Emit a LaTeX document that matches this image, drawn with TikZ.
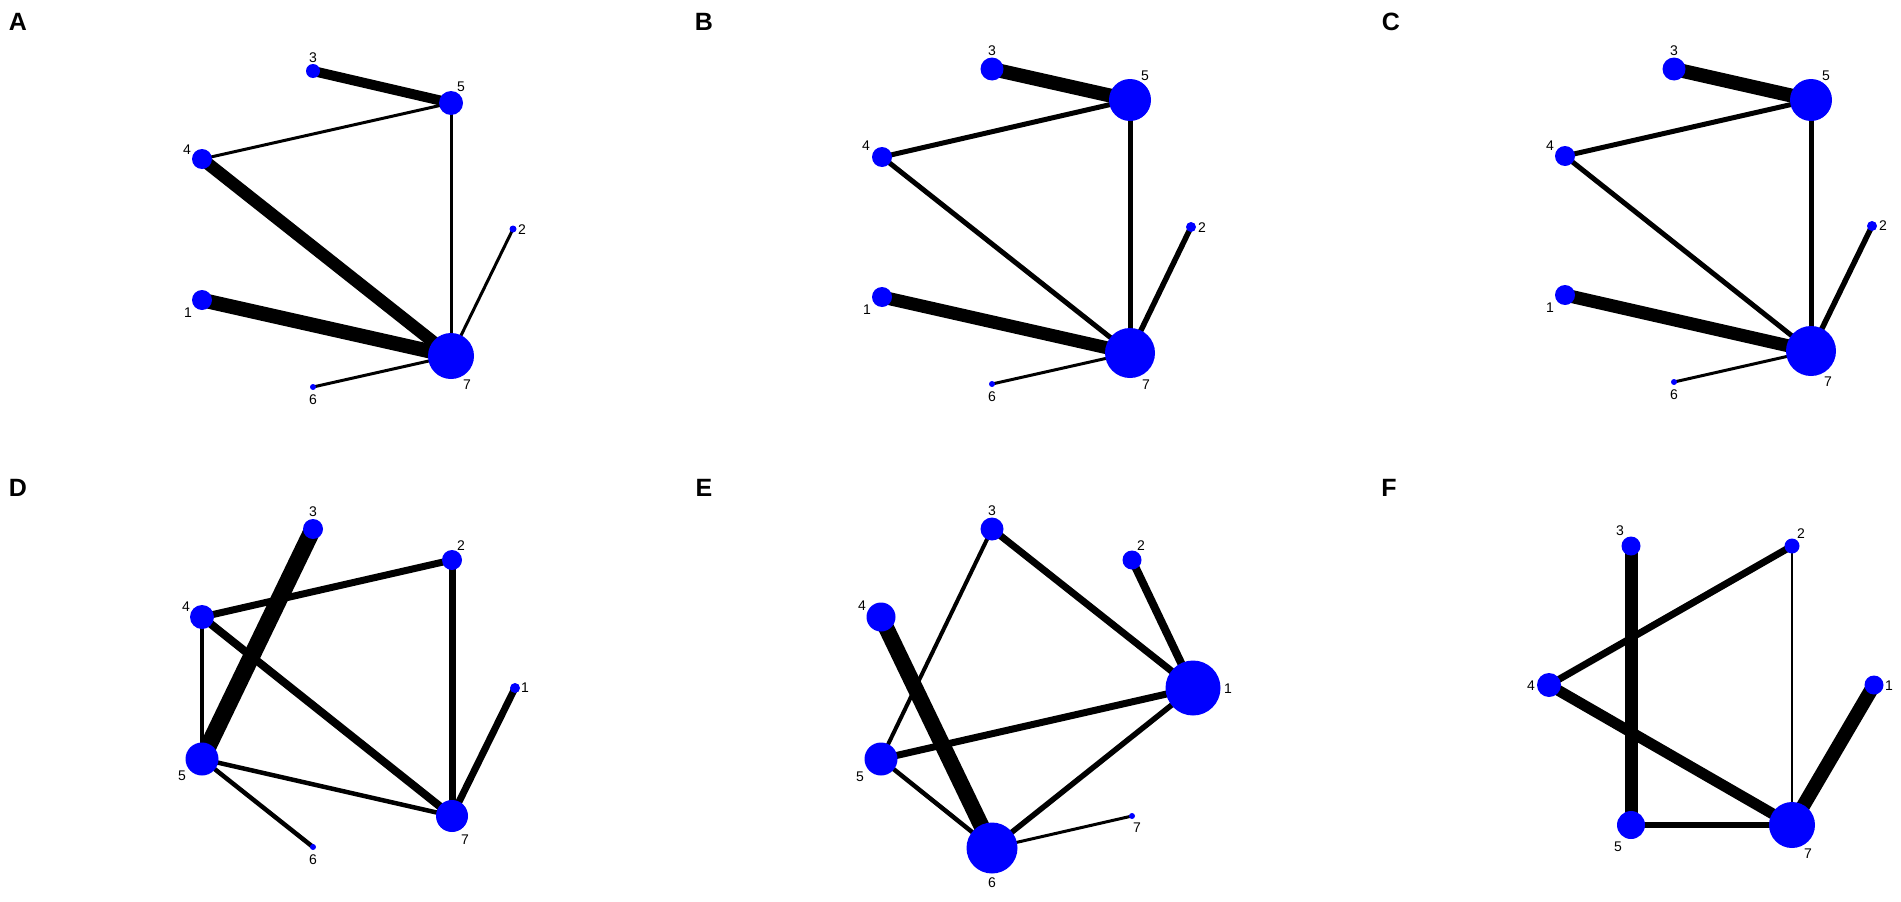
\documentclass[tikz,border=0pt]{standalone}
\usepackage{fontspec}
\setmainfont{Liberation Sans}
\pgfdeclarelayer{bg}
\pgfsetlayers{bg,main}
\begin{document}
\begin{tikzpicture}[x=1pt,y=-1pt,
  vtx/.style={circle,fill=blue,draw=none,inner sep=0pt,minimum size=#1},
  lbl/.style={font=\fontsize{14}{14}\selectfont,inner sep=0pt,text=black},
  plbl/.style={font=\fontsize{25}{25}\selectfont\bfseries,inner sep=0pt},
  ed/.style={line width=#1,black}]
\begin{pgfonlayer}{bg}
\fill[white] (0,0) rectangle (1901,902);
\end{pgfonlayer}
\useasboundingbox (0,0) rectangle (1901,902);
% ---------------- A
\node[plbl] (pA) at (18,22) {A};
\node[vtx=14] (A3) at (313,71) {};
\node[vtx=24] (A5) at (451,103) {};
\node[vtx=20] (A4) at (202,159) {};
\node[vtx=7]  (A2) at (513,229) {};
\node[vtx=20] (A1) at (202,300) {};
\node[vtx=46] (A7) at (451,356) {};
\node[vtx=6]  (A6) at (313,387) {};
\node[lbl] (A3t) at (313,58) {3};
\node[lbl] (A5t) at (461,87) {5};
\node[lbl] (A4t) at (187,150) {4};
\node[lbl] (A2t) at (522,230) {2};
\node[lbl] (A1t) at (188,313) {1};
\node[lbl] (A7t) at (467,385) {7};
\node[lbl] (A6t) at (313,400) {6};
\begin{pgfonlayer}{bg}
\draw[ed=10pt] (A3.center) -- (A5.center);
\draw[ed=3pt] (A4.center) -- (A5.center);
\draw[ed=3pt] (A5.center) -- (A7.center);
\draw[ed=12.5pt] (A4.center) -- (A7.center);
\draw[ed=14.5pt] (A1.center) -- (A7.center);
\draw[ed=3pt] (A2.center) -- (A7.center);
\draw[ed=3pt] (A6.center) -- (A7.center);
\end{pgfonlayer}
% ---------------- B
\node[plbl] (pB) at (704,22) {B};
\node[vtx=23] (B3) at (992,69) {};
\node[vtx=42] (B5) at (1130,100) {};
\node[vtx=20] (B4) at (882,157) {};
\node[vtx=10] (B2) at (1191,227) {};
\node[vtx=20] (B1) at (882,297) {};
\node[vtx=50] (B7) at (1130,353) {};
\node[vtx=6]  (B6) at (992,384) {};
\node[lbl] (B3t) at (992,51) {3};
\node[lbl] (B5t) at (1145,76) {5};
\node[lbl] (B4t) at (866,146) {4};
\node[lbl] (B2t) at (1202,228) {2};
\node[lbl] (B1t) at (867,310) {1};
\node[lbl] (B7t) at (1146,385) {7};
\node[lbl] (B6t) at (992,397) {6};
\begin{pgfonlayer}{bg}
\draw[ed=14pt] (B3.center) -- (B5.center);
\draw[ed=5pt] (B4.center) -- (B5.center);
\draw[ed=5pt] (B5.center) -- (B7.center);
\draw[ed=5pt] (B4.center) -- (B7.center);
\draw[ed=13pt] (B1.center) -- (B7.center);
\draw[ed=5.5pt] (B2.center) -- (B7.center);
\draw[ed=3pt] (B6.center) -- (B7.center);
\end{pgfonlayer}
% ---------------- C
\node[plbl] (pC) at (1391,22) {C};
\node[vtx=23] (C3) at (1674,69) {};
\node[vtx=42] (C5) at (1811,100) {};
\node[vtx=20] (C4) at (1565,156) {};
\node[vtx=10] (C2) at (1872,226) {};
\node[vtx=20] (C1) at (1565,295) {};
\node[vtx=50] (C7) at (1811,351) {};
\node[vtx=6]  (C6) at (1674,382) {};
\node[lbl] (C3t) at (1674,51) {3};
\node[lbl] (C5t) at (1826,76) {5};
\node[lbl] (C4t) at (1550,146) {4};
\node[lbl] (C2t) at (1883,226) {2};
\node[lbl] (C1t) at (1550,308) {1};
\node[lbl] (C7t) at (1828,382) {7};
\node[lbl] (C6t) at (1674,395) {6};
\begin{pgfonlayer}{bg}
\draw[ed=14pt] (C3.center) -- (C5.center);
\draw[ed=5pt] (C4.center) -- (C5.center);
\draw[ed=5pt] (C5.center) -- (C7.center);
\draw[ed=5pt] (C4.center) -- (C7.center);
\draw[ed=13pt] (C1.center) -- (C7.center);
\draw[ed=5.5pt] (C2.center) -- (C7.center);
\draw[ed=3pt] (C6.center) -- (C7.center);
\end{pgfonlayer}
% ---------------- D
\node[plbl] (pD) at (18,488) {D};
\node[vtx=20] (D3) at (313,529) {};
\node[vtx=20] (D2) at (452,560) {};
\node[vtx=24] (D4) at (202,617) {};
\node[vtx=10] (D1) at (515,688) {};
\node[vtx=33] (D5) at (202,759) {};
\node[vtx=32] (D7) at (452,816) {};
\node[vtx=6]  (D6) at (313,847) {};
\node[lbl] (D3t) at (313,512) {3};
\node[lbl] (D2t) at (461,546) {2};
\node[lbl] (D4t) at (186,607) {4};
\node[lbl] (D1t) at (525,688) {1};
\node[lbl] (D5t) at (182,776) {5};
\node[lbl] (D7t) at (465,840) {7};
\node[lbl] (D6t) at (313,860) {6};
\begin{pgfonlayer}{bg}
\draw[ed=17pt] (D3.center) -- (D5.center);
\draw[ed=7pt] (D4.center) -- (D2.center);
\draw[ed=7pt] (D2.center) -- (D7.center);
\draw[ed=8pt] (D4.center) -- (D7.center);
\draw[ed=3.3pt] (D4.center) -- (D5.center);
\draw[ed=4.5pt] (D5.center) -- (D7.center);
\draw[ed=4.5pt] (D5.center) -- (D6.center);
\draw[ed=7pt] (D1.center) -- (D7.center);
\end{pgfonlayer}
% ---------------- E
\node[plbl] (pE) at (704,488) {E};
\node[vtx=23] (E3) at (992,529) {};
\node[vtx=19] (E2) at (1132,560) {};
\node[vtx=29] (E4) at (881,617) {};
\node[vtx=55] (E1) at (1193,688) {};
\node[vtx=33] (E5) at (881,759) {};
\node[vtx=6]  (E7) at (1132,816) {};
\node[vtx=51] (E6) at (992,848) {};
\node[lbl] (E3t) at (992,511) {3};
\node[lbl] (E2t) at (1141,546) {2};
\node[lbl] (E4t) at (862,606) {4};
\node[lbl] (E1t) at (1228,689) {1};
\node[lbl] (E5t) at (860,777) {5};
\node[lbl] (E7t) at (1137,828) {7};
\node[lbl] (E6t) at (992,883) {6};
\begin{pgfonlayer}{bg}
\draw[ed=16pt] (E4.center) -- (E6.center);
\draw[ed=7pt] (E3.center) -- (E1.center);
\draw[ed=8pt] (E2.center) -- (E1.center);
\draw[ed=7pt] (E5.center) -- (E1.center);
\draw[ed=4pt] (E3.center) -- (E5.center);
\draw[ed=4.5pt] (E5.center) -- (E6.center);
\draw[ed=5.5pt] (E1.center) -- (E6.center);
\draw[ed=3pt] (E6.center) -- (E7.center);
\end{pgfonlayer}
% ---------------- F
\node[plbl] (pF) at (1389,488) {F};
\node[vtx=19] (F3) at (1631,546) {};
\node[vtx=15] (F2) at (1792,546) {};
\node[vtx=24] (F4) at (1549,685) {};
\node[vtx=19] (F1) at (1874,685) {};
\node[vtx=28] (F5) at (1631,825) {};
\node[vtx=46] (F7) at (1792,825) {};
\node[lbl] (F3t) at (1620,531) {3};
\node[lbl] (F2t) at (1801,534) {2};
\node[lbl] (F4t) at (1531,686) {4};
\node[lbl] (F1t) at (1889,686) {1};
\node[lbl] (F5t) at (1618,847) {5};
\node[lbl] (F7t) at (1808,854) {7};
\begin{pgfonlayer}{bg}
\draw[ed=13pt] (F3.center) -- (F5.center);
\draw[ed=7pt] (F4.center) -- (F2.center);
\draw[ed=11pt] (F4.center) -- (F7.center);
\draw[ed=2.7pt] (F2.center) -- (F7.center);
\draw[ed=6pt] (F5.center) -- (F7.center);
\draw[ed=14pt] (F1.center) -- (F7.center);
\end{pgfonlayer}
\end{tikzpicture}
\end{document}
